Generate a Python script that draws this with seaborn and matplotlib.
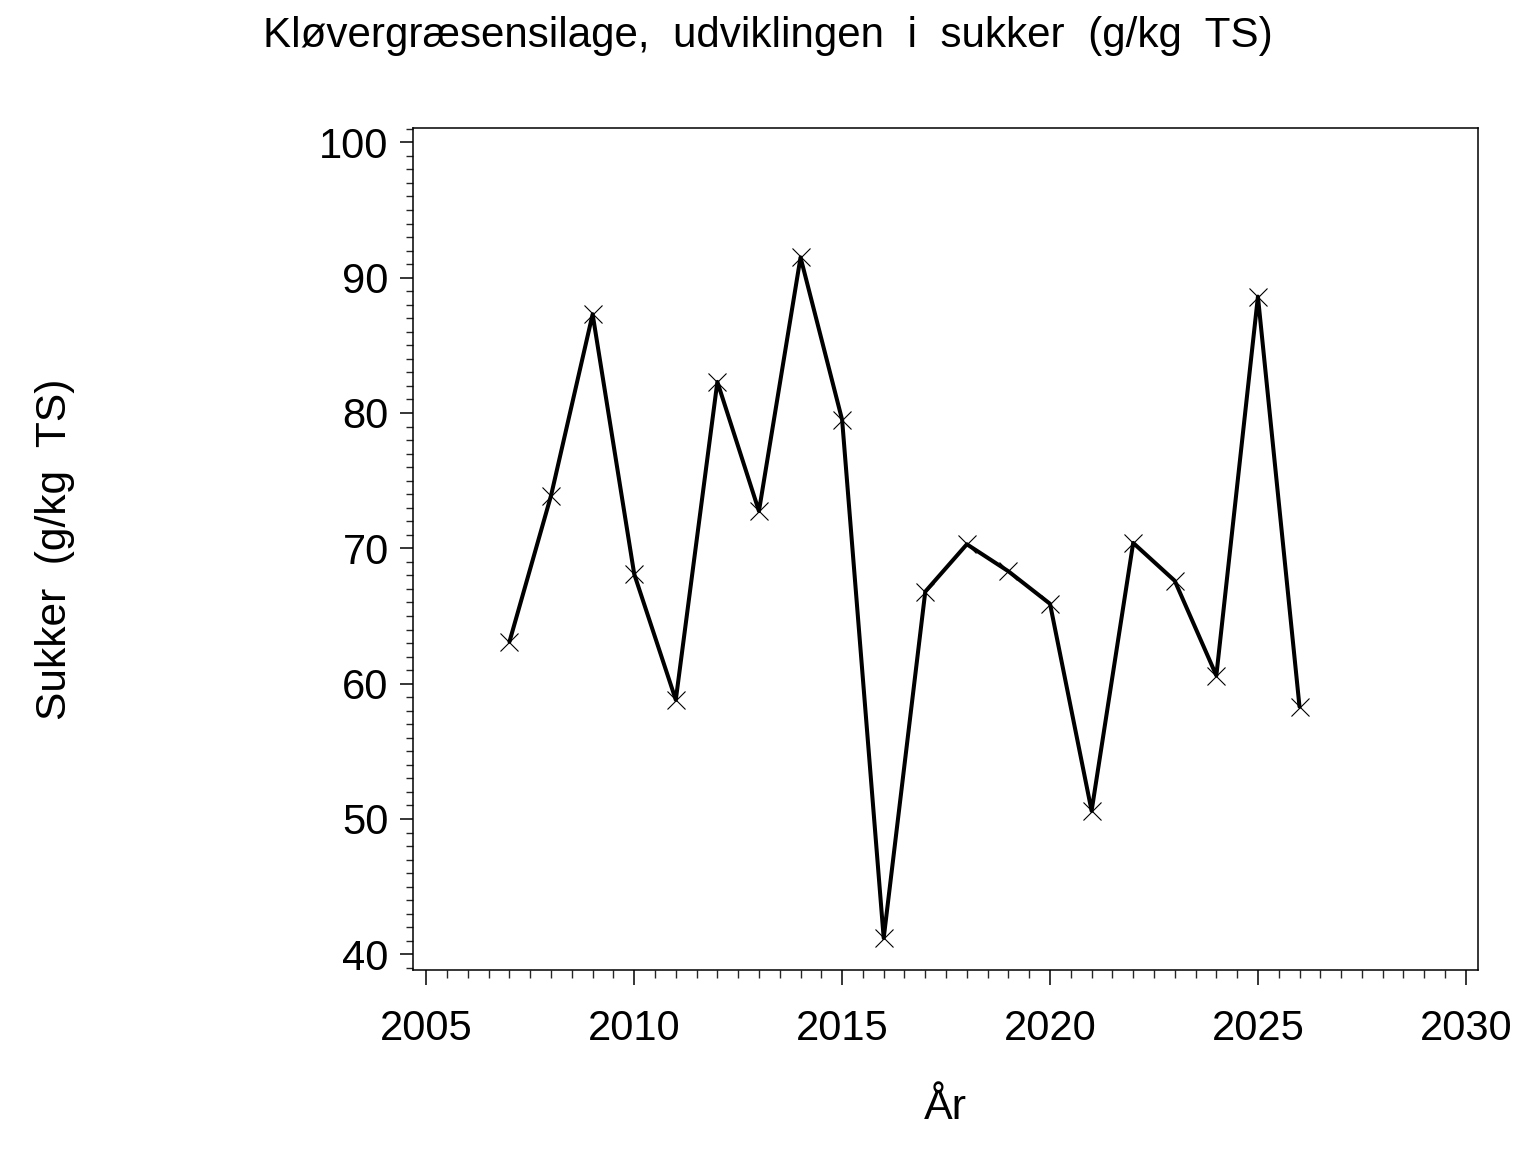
import matplotlib
matplotlib.use("Agg")
import matplotlib.pyplot as plt
from matplotlib.ticker import MultipleLocator
import seaborn as sns
import pandas as pd

years = [2007, 2008, 2009, 2010, 2011, 2012, 2013, 2014, 2015, 2016,
         2017, 2018, 2019, 2020, 2021, 2022, 2023, 2024, 2025, 2026]
sukker = [63.1, 73.9, 87.3, 68.1, 58.8, 82.3, 72.75, 91.5, 79.5, 41.2,
          66.8, 70.3, 68.3, 65.9, 50.6, 70.4, 67.6, 60.6, 88.6, 58.3]
x_ticks = [2005, 2010, 2015, 2020, 2025, 2030]
y_ticks = [40, 50, 60, 70, 80, 90, 100]
title = "Kløvergræsensilage,  udviklingen  i  sukker  (g/kg  TS)"
x_label = "År"
y_label = "Sukker  (g/kg  TS)"

df = pd.DataFrame({"År": years, "Sukker": sukker})

sns.set_style("ticks")
plt.rcParams["font.family"] = ["Liberation Sans", "DejaVu Sans"]
plt.rcParams["text.color"] = "black"

fig = plt.figure(figsize=(15.36, 11.52), dpi=100)
ax = fig.add_axes([413 / 1536, 1 - 970 / 1152, (1478.3 - 413) / 1536, (970 - 128) / 1152])

sns.lineplot(data=df, x="År", y="Sukker", ax=ax, color="black", linewidth=2.9,
             marker="x", markersize=12.5, markeredgewidth=0.8,
             markeredgecolor="black")

ax.set_xlim(2004.68, 2030.30)
ax.set_ylim(38.84, 101.06)
ax.set_xticks(x_ticks)
ax.set_yticks(y_ticks)
ax.xaxis.set_minor_locator(MultipleLocator(0.5))
ax.yaxis.set_minor_locator(MultipleLocator(1))

for s in ax.spines.values():
    s.set_visible(True)
    s.set_linewidth(1.1)
    s.set_color("black")

ax.tick_params(axis="x", which="major", length=11, width=1.1, direction="out",
               pad=17, labelsize=30, colors="black")
ax.tick_params(axis="x", which="minor", length=5.5, width=1.0, direction="out")
ax.tick_params(axis="y", which="major", length=9.5, width=1.1, direction="out",
               pad=8, labelsize=30, colors="black")
ax.tick_params(axis="y", which="minor", length=5, width=1.0, direction="out")

ax.set_xlabel("")
ax.set_ylabel("")
fig.text(945.6 / 1536, 1 - 1108 / 1152, x_label, ha="center", va="center",
         fontsize=31, color="black")
fig.text(55 / 1536, 1 - 549 / 1152, y_label, ha="center", va="center",
         rotation=90, fontsize=30.6, color="black")
fig.text(768 / 1536, 1 - 36 / 1152, title, ha="center", va="center",
         fontsize=30.3, color="black")

fig.savefig("out.png", dpi=100, facecolor="white")
